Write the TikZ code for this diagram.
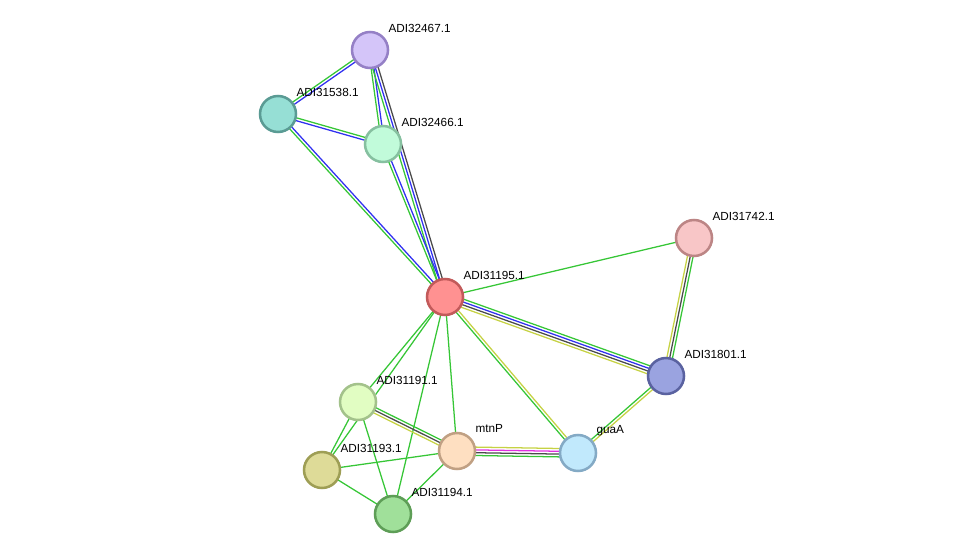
\documentclass[tikz,border=0pt]{standalone}
\usepackage{fontspec}
\setmainfont{Liberation Sans}
\usepackage{xcolor}
\usepackage{tikz}
\usetikzlibrary{calc,backgrounds}

\definecolor{lgreen}{HTML}{36C636}
\definecolor{lblue}{HTML}{3030F0}
\definecolor{lgray}{HTML}{4A4A4A}
\definecolor{lyellow}{HTML}{C6D244}
\definecolor{lpink}{HTML}{E030E0}

% fill / rim of each protein
\definecolor{f195}{HTML}{FF9191}\definecolor{r195}{HTML}{C25A5A}
\definecolor{f467}{HTML}{D4C5F9}\definecolor{r467}{HTML}{9580C6}
\definecolor{f538}{HTML}{96DFD5}\definecolor{r538}{HTML}{5A9B94}
\definecolor{f466}{HTML}{C1FBDA}\definecolor{r466}{HTML}{86C0A0}
\definecolor{f742}{HTML}{F8C6C7}\definecolor{r742}{HTML}{BC8585}
\definecolor{f801}{HTML}{9AA3E0}\definecolor{r801}{HTML}{5A62A0}
\definecolor{f191}{HTML}{E1FDC2}\definecolor{r191}{HTML}{A3C28B}
\definecolor{fmtn}{HTML}{FEDFC1}\definecolor{rmtn}{HTML}{C0A083}
\definecolor{fgua}{HTML}{C1E9FC}\definecolor{rgua}{HTML}{84AAC5}
\definecolor{f193}{HTML}{DEDB98}\definecolor{r193}{HTML}{9E9E55}
\definecolor{f194}{HTML}{A0E09A}\definecolor{r194}{HTML}{5E9E57}

\tikzset{
  prot/.style={circle, draw=r#1, fill=f#1, line width=1.9pt, minimum size=27pt, inner sep=0pt},
  lbl/.style={font=\fontsize{8.8}{10}\selectfont, inner sep=1pt, anchor=west},
  link/.style={line width=0.95pt}
}

% one coloured line per evidence channel, side by side (first one on the left)
\newcommand{\links}[4]{%
  \foreach \c [count=\i, evaluate=\i as \off using (\i-(#3+1)/2)*2.1] in {#4} {
    \draw[link, \c] ($(#1)!\off pt!-90:(#2)$) -- ($(#2)!\off pt!90:(#1)$);
  }%
}

\begin{document}
\begin{tikzpicture}[x=0.75pt, y=-0.75pt]
\useasboundingbox (0,0) rectangle (976,560);

% proteins
\node (p195) [prot=195] at (445,297) {};
\node (p467) [prot=467] at (370,50) {};
\node (p538) [prot=538] at (278,114) {};
\node (p466) [prot=466] at (383,144) {};
\node (p742) [prot=742] at (694,238) {};
\node (p801) [prot=801] at (666,376) {};
\node (p191) [prot=191] at (358,402) {};
\node (mtnP) [prot=mtn] at (457,451) {};
\node (guaA) [prot=gua] at (578,453) {};
\node (p193) [prot=193] at (322,470) {};
\node (p194) [prot=194] at (393,514) {};

% names
\foreach \n/\t in {p195/ADI31195.1, p467/ADI32467.1, p538/ADI31538.1, p466/ADI32466.1,
  p742/ADI31742.1, p801/ADI31801.1, p191/ADI31191.1, mtnP/mtnP, guaA/guaA,
  p193/ADI31193.1, p194/ADI31194.1}
  \node[lbl] (t-\n) at ($(\n)+(17,-22)$) {\t};

% edges
\begin{pgfonlayer}{background}
\links{p538}{p467}{2}{lgreen,lblue}
\links{p466}{p467}{2}{lgreen,lblue}
\links{p195}{p467}{3}{lgreen,lblue,lgray}
\links{p538}{p466}{2}{lgreen,lblue}
\links{p195}{p538}{2}{lgreen,lblue}
\links{p195}{p466}{2}{lgreen,lblue}
\links{p195}{p742}{1}{lgreen}
\links{p195}{p801}{4}{lgreen,lblue,lgray,lyellow}
\links{p801}{p742}{3}{lyellow,lgray,lgreen}
\links{guaA}{p801}{2}{lgreen,lyellow}
\links{guaA}{p195}{2}{lgreen,lyellow}
\links{p195}{p191}{1}{lgreen}
\links{p195}{p193}{1}{lgreen}
\links{p195}{p194}{1}{lgreen}
\links{p195}{mtnP}{1}{lgreen}
\links{p191}{mtnP}{3}{lgreen,lgray,lyellow}
\links{p191}{p193}{1}{lgreen}
\links{p191}{p194}{1}{lgreen}
\links{p193}{mtnP}{1}{lgreen}
\links{p193}{p194}{1}{lgreen}
\links{p194}{mtnP}{1}{lgreen}
\links{mtnP}{guaA}{4}{lyellow,lpink,lgray,lgreen}
\end{pgfonlayer}
\end{tikzpicture}
\end{document}
